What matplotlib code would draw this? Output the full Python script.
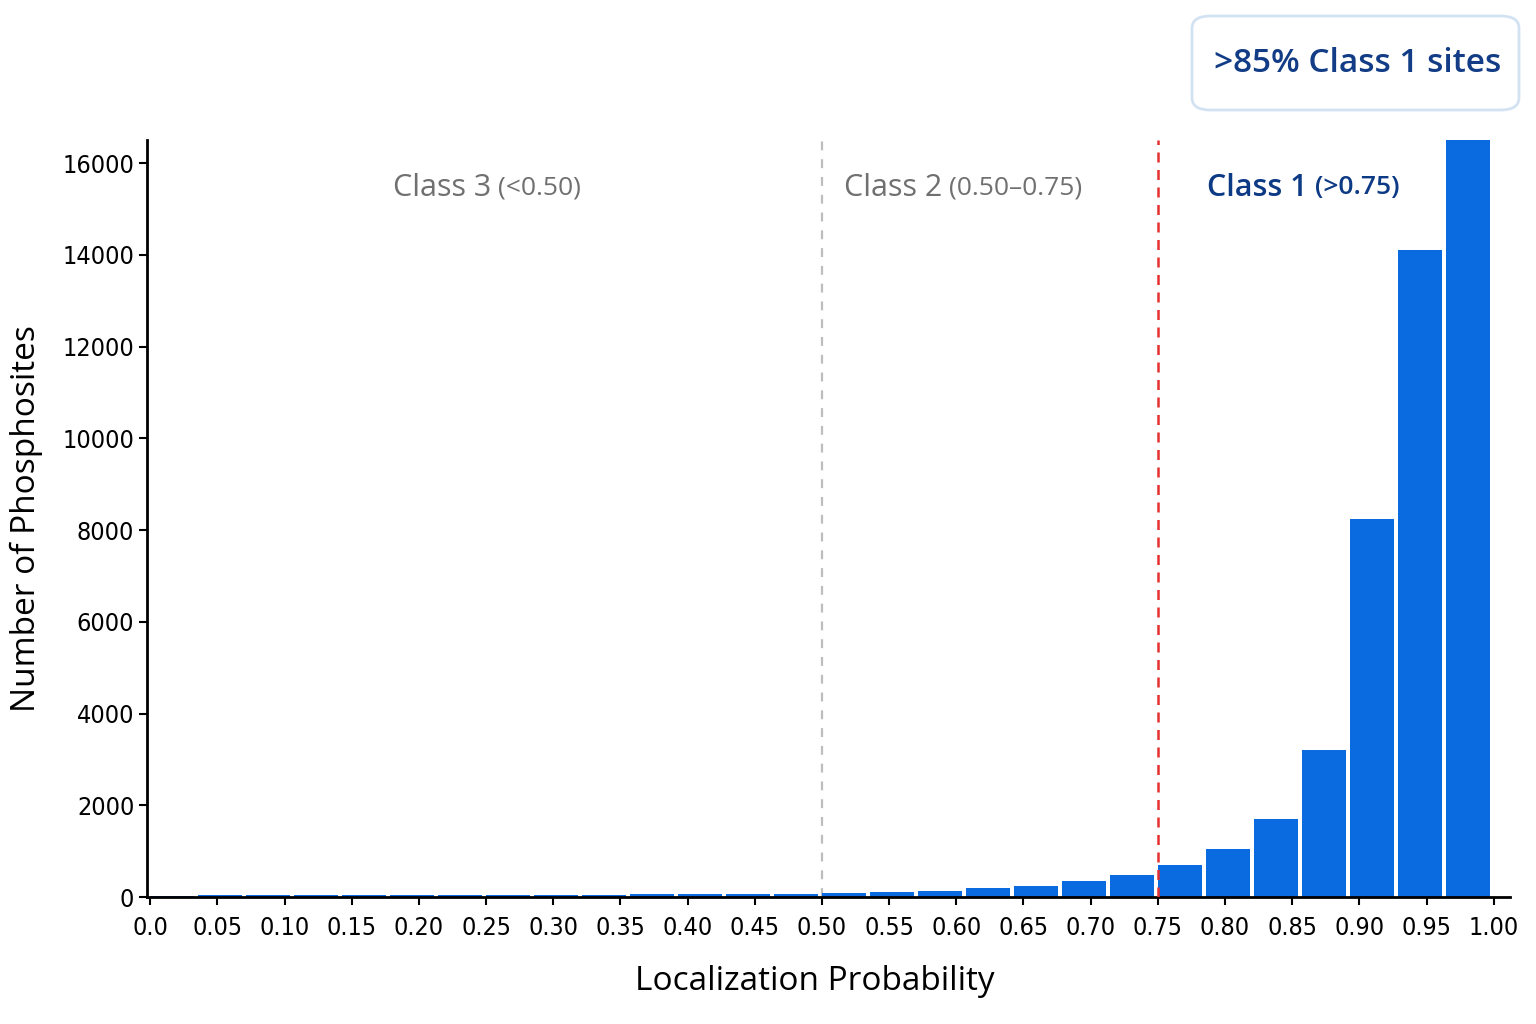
import numpy as np
import matplotlib
matplotlib.use('Agg')
import matplotlib.pyplot as plt
from matplotlib.patches import FancyBboxPatch

# histogram counts, 28 equal bins over 0..1
bin_edges = np.linspace(0, 1, 29)
counts = [30, 35, 38, 40, 42, 45, 48, 50, 52, 55, 58, 62, 66, 70,
          80, 100, 140, 190, 240, 350, 490, 700, 1050, 1700, 3200, 8250, 14100, 16500]

tick_vals = np.round(np.arange(0, 1.0001, 0.05), 2)
tick_labels = ['0.0'] + [f'{v:.2f}' for v in tick_vals[1:]]
y_ticks = [0, 2000, 4000, 6000, 8000, 10000, 12000, 14000, 16000]

class_cuts = [0.50, 0.75]

tick_font = ['DejaVu Sans']
label_font = ['Open Sans', 'DejaVu Sans']

fig = plt.figure(figsize=(15.36, 10.24), dpi=100)
ax = fig.add_axes([0.096, 0.124, 0.887, 0.739])

width = bin_edges[1] - bin_edges[0]
ax.bar(bin_edges[:-1], counts, width=width * 0.92, align='edge', color='#0a6ae0', zorder=2)

ax.axvline(class_cuts[0], color='#bdbdbd', linestyle=(0, (4, 4)), linewidth=1.6, zorder=1)
ax.axvline(class_cuts[1], color='#e53030', linestyle=(0, (4, 3)), linewidth=1.8, zorder=3)

ax.set_xlim(-0.002, 1.012)
ax.set_ylim(0, 16500)
ax.set_xticks(tick_vals)
ax.set_xticklabels(tick_labels)
ax.set_yticks(y_ticks)
for lbl in ax.get_xticklabels() + ax.get_yticklabels():
    lbl.set_family(tick_font)
    lbl.set_stretch('condensed')
    lbl.set_fontsize(18)
ax.tick_params(axis='both', direction='out', length=6, width=1.5, colors='black')
ax.tick_params(axis='x', pad=8)

for s in ['top', 'right']:
    ax.spines[s].set_visible(False)
for s in ['left', 'bottom']:
    ax.spines[s].set_linewidth(2)

ax.set_xlabel('Localization Probability', fontsize=24, family=label_font, weight='medium')
ax.xaxis.label.set_va('center')
ax.xaxis.set_label_coords(0.49, -0.112)
ax.set_ylabel('Number of Phosphosites', fontsize=24, family=label_font,
              weight='medium', labelpad=14)

# class labels (big name + smaller range)
fig.canvas.draw()
renderer = fig.canvas.get_renderer()


def class_label(xc, name, rng, color, weight):
    y = 1 - 188 / 1024
    t1 = fig.text(0, y, name, fontsize=22, color=color, family=label_font,
                  weight=weight, va='center', ha='left')
    t2 = fig.text(0, y, rng, fontsize=19, color=color, family=label_font,
                  weight=weight, va='center', ha='left')
    w1 = t1.get_window_extent(renderer).width
    w2 = t2.get_window_extent(renderer).width
    gap = 7
    total = w1 + gap + w2
    x0 = xc - total / 2
    t1.set_x(x0 / 1536)
    t2.set_x((x0 + w1 + gap) / 1536)


class_label(487, 'Class 3', '(<0.50)', '#707070', 'medium')
class_label(963, 'Class 2', '(0.50\u20130.75)', '#707070', 'medium')
class_label(1303, 'Class 1', '(>0.75)', '#0d3a84', 'semibold')

# summary box
box = FancyBboxPatch((1192 / 1536, 1 - 110 / 1024), 327 / 1536, 94 / 1024,
                     boxstyle='round,pad=0,rounding_size=0.012',
                     transform=fig.transFigure, facecolor='white',
                     edgecolor='#d3e2f2', linewidth=2)
fig.patches.append(box)
fig.text(1358 / 1536, 1 - 63 / 1024, '>85% Class 1 sites', fontsize=24, color='#123d86',
         family=label_font, weight='semibold', va='center', ha='center')

fig.savefig('out.png', dpi=100, facecolor='white')
